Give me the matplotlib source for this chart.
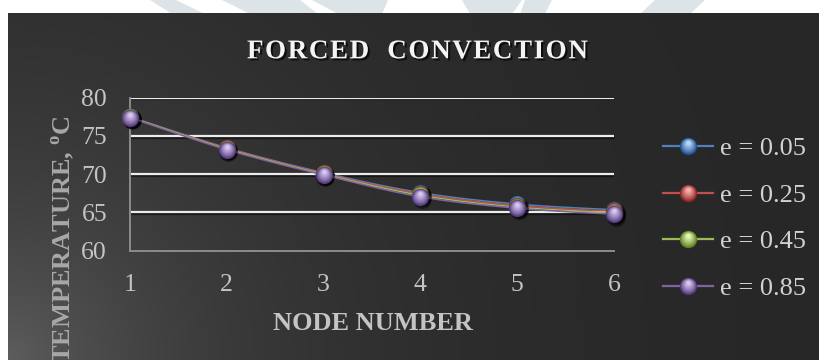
import numpy as np
import matplotlib
matplotlib.use("Agg")
import matplotlib.pyplot as plt
from matplotlib.lines import Line2D
from matplotlib.path import Path
from matplotlib.patches import Polygon
from matplotlib.legend_handler import HandlerTuple
from matplotlib.font_manager import FontProperties
import matplotlib.patheffects as pe
import matplotlib.transforms as mtransforms

plt.rcParams['font.family'] = ['Liberation Serif', 'DejaVu Serif']
plt.rcParams['mathtext.fontset'] = 'custom'
plt.rcParams['mathtext.rm'] = 'Liberation Serif'
plt.rcParams['mathtext.bf'] = 'Liberation Serif:bold'

# ---------------- data ----------------
nodes = [1, 2, 3, 4, 5, 6]
temp_e005 = [77.5, 73.45, 70.2, 67.6, 66.1, 65.35]
temp_e025 = [77.45, 73.4, 70.1, 67.45, 65.9, 65.15]
temp_e045 = [77.45, 73.3, 70.0, 67.25, 65.7, 64.95]
temp_e085 = [77.4, 73.2, 69.9, 67.05, 65.55, 64.75]
series_labels = ['e = 0.05', 'e = 0.25', 'e = 0.45', 'e = 0.85']
y_ticks = [60, 65, 70, 75, 80]
title_text = 'FORCED  CONVECTION'

# line colour, sphere dark shade, sphere light shade
palette = [
    ('#4F81BD', '#1f4f8f', '#b9d6f7'),
    ('#C0504D', '#8a2421', '#f7b0ae'),
    ('#9BBB59', '#5f7f1f', '#e4f7b4'),
    ('#8064A2', '#51377a', '#d6c6f0'),
]

W, H, DPI = 819, 360, 100
fig = plt.figure(figsize=(W / DPI, H / DPI), dpi=DPI, facecolor='white')


def fx(px):
    return px / W


def fy(py):
    return 1 - py / H


# faint page watermark strokes above the chart panel
for poly in [
    [(150, 0), (176, 0), (205, 14), (172, 14)],
    [(222, 0), (300, 0), (318, 14), (250, 14)],
    [(312, 0), (388, 0), (382, 14), (338, 14)],
    [(462, 0), (522, 0), (512, 14), (470, 14)],
    [(525, 0), (552, 0), (545, 14), (520, 14)],
    [(655, 0), (705, 0), (690, 14), (640, 14)],
]:
    fig.add_artist(Polygon([(fx(x), fy(y)) for x, y in poly], closed=True,
                           transform=fig.transFigure, facecolor='#dde4e8',
                           edgecolor='none', zorder=0))

# dark chart panel with a soft light corner at the lower left
left_px, top_px = 8, 13
bg_ax = fig.add_axes([fx(left_px), 0, 1 - fx(left_px), 1 - top_px / H], zorder=0)
gx = np.arange(left_px, W) + 0.5
gy = np.arange(top_px, H) + 0.5
GX, GY = np.meshgrid(gx, gy)
dist = np.hypot(GX - left_px, GY - H)
shade = (38 + 55 * np.exp(-dist / 220)) / 255.0
bg_ax.imshow(np.dstack([shade, shade, shade]), aspect='auto',
             extent=[0, 1, 0, 1], interpolation='bilinear')
bg_ax.set_axis_off()

# plotting area
ax_l, ax_r, ax_t, ax_b = 130, 614, 97.7, 250.7
ax = fig.add_axes([fx(ax_l), fy(ax_b), fx(ax_r - ax_l), (ax_b - ax_t) / H], zorder=2)
ax.set_facecolor('none')
ax.set_xlim(1, 6)
ax.set_ylim(60, 80)
ax.set_xticks(nodes)
ax.set_yticks(y_ticks)
ax.tick_params(length=0, labelsize=18.5, labelcolor='#c4c4c4')
ax.tick_params(axis='x', pad=17)
ax.tick_params(axis='y', pad=16.5)
for s in ['top', 'right']:
    ax.spines[s].set_visible(False)
for s in ['left', 'bottom']:
    ax.spines[s].set_color('#8c8c8c')
    ax.spines[s].set_linewidth(1.4)
for v in y_ticks[1:]:
    ax.axhline(v, color='#ececec', lw=1.6, zorder=1,
               path_effects=[pe.SimpleLineShadow(offset=(0.8, -1.2), shadow_color='black', alpha=0.5),
                             pe.Normal()])


def smooth(xs, ys, n=24):
    """Cardinal (Catmull-Rom style) Bezier smoothing through the points."""
    p = np.column_stack([xs, ys]).astype(float)
    ext = np.vstack([p[0], p, p[-1]])
    out = [p[0]]
    t = np.linspace(0, 1, n)[1:, None]
    for i in range(len(p) - 1):
        p0, p1, p2, p3 = ext[i], ext[i + 1], ext[i + 2], ext[i + 3]
        c1 = p1 + (p2 - p0) / 6.0
        c2 = p2 - (p3 - p1) / 6.0
        seg = ((1 - t) ** 3) * p1 + 3 * ((1 - t) ** 2) * t * c1 + 3 * (1 - t) * t ** 2 * c2 + t ** 3 * p2
        out.extend(seg)
    out = np.array(out)
    return out[:, 0], out[:, 1]


def layer_marker(r, cy):
    circ = Path.circle(center=(0, cy), radius=r)
    anchor = Path([(1.0, 0.0)], [Path.MOVETO])
    return Path.make_compound_path(anchor, circ)


def mix(c1, c2, t):
    a = np.array(matplotlib.colors.to_rgb(c1))
    b = np.array(matplotlib.colors.to_rgb(c2))
    return tuple(a + (b - a) * t)


N_LAYERS = 8
layer_specs = []
for k in range(N_LAYERS):
    t = k / (N_LAYERS - 1)
    layer_specs.append((1 - 0.78 * t, 0.40 * t, t ** 0.85))

MS = 12.5
shadow_off = mtransforms.ScaledTranslation(1.6 / DPI, -2.2 / DPI, fig.dpi_scale_trans)


def sphere_artists(x, y, dark, light, z, target=None):
    arts = []
    kw = dict(linestyle='none', markeredgewidth=0)
    if target is not None:
        sh, = target.plot(x, y, marker='o', markersize=MS + 1.0, color='black', alpha=0.45,
                          transform=target.transData + shadow_off, zorder=z, clip_on=False, **kw)
        arts.append(sh)
    for r, cy, t in layer_specs:
        col = mix(dark, light, t)
        if target is not None:
            ln, = target.plot(x, y, marker=layer_marker(r, cy), markersize=MS, color=col,
                              zorder=z + 0.1, clip_on=False, **kw)
        else:
            ln = Line2D([], [], marker=layer_marker(r, cy), markersize=MS, color=col, **kw)
        arts.append(ln)
    return arts


all_series = [temp_e005, temp_e025, temp_e045, temp_e085]
legend_handles = []
for i, (vals, (lc, dark, light)) in enumerate(zip(all_series, palette)):
    sx, sy = smooth(nodes, vals)
    ax.plot(sx, sy, color=lc, lw=1.1, zorder=3 + i * 2, clip_on=False, solid_capstyle='round')
    sphere_artists(nodes, vals, dark, light, 3.5 + i * 2, target=ax)
    proxy_line = Line2D([], [], color=lc, lw=1.6)
    legend_handles.append(tuple([proxy_line] + sphere_artists([], [], dark, light, 0)))

leg = fig.legend(legend_handles, series_labels,
                 handler_map={tuple: HandlerTuple(ndivide=1, pad=0)},
                 loc='upper left', bbox_to_anchor=(fx(663), fy(137)),
                 frameon=False, fontsize=19, labelcolor='#d2d2d2',
                 handlelength=1.9, handletextpad=0.27, labelspacing=0.87,
                 borderpad=0, borderaxespad=0, numpoints=1)

# letter-spaced chart title
renderer = fig.canvas.get_renderer()
title_prop = FontProperties(family='Liberation Serif', weight='bold', size=19.5)


def text_w(s):
    w, _, _ = renderer.get_text_width_height_descent(s, title_prop, ismath=False)
    return w


title_left, title_right, title_base = 247, 588, 58.3
gaps = len(title_text) - 1
spacing = (title_right - title_left - text_w(title_text)) / gaps
for k, ch in enumerate(title_text):
    if ch == ' ':
        continue
    xk = title_left + text_w(title_text[:k + 1]) - text_w(ch) + k * spacing
    fig.text(fx(xk), fy(title_base), ch, ha='left', va='baseline',
             fontproperties=title_prop, color='#f4f4f4',
             path_effects=[pe.withSimplePatchShadow(offset=(1.5, -1.5), shadow_rgbFace='black', alpha=0.7)])

fig.text(fx(372.5), fy(330), 'NODE NUMBER', ha='center', va='baseline',
         fontsize=19, fontweight='bold', color='#c4c4c4')
fig.text(fx(71), fy(116), r'TEMPERATURE, $^{\mathbf{o}}$C', rotation=90,
         rotation_mode='anchor', ha='right', va='baseline',
         fontsize=19, fontweight='bold', color='#a8a8a8')

fig.savefig('out.png', dpi=DPI, facecolor='white')
